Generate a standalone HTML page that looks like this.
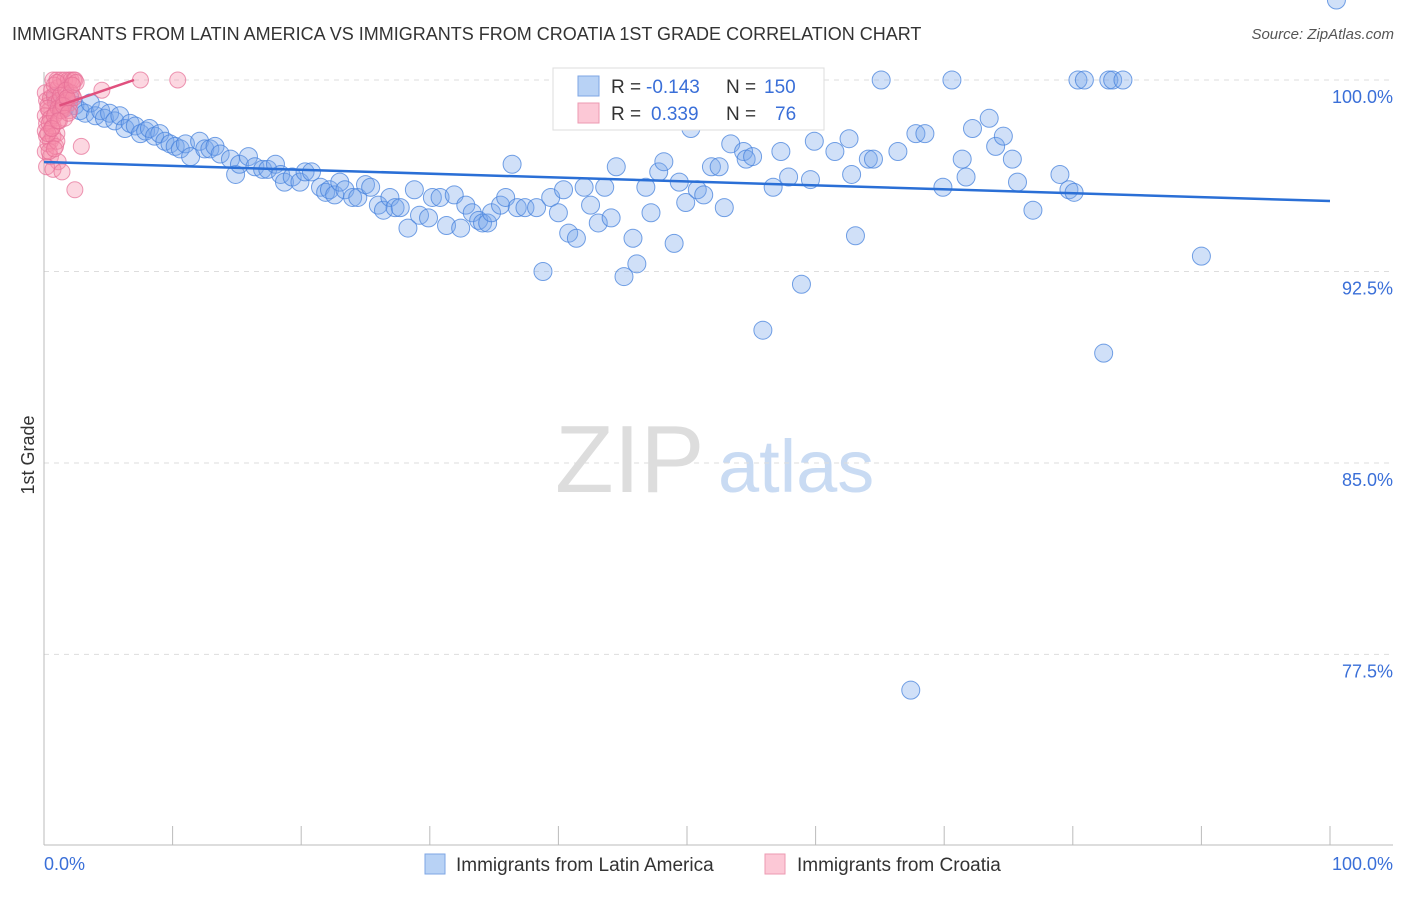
<!DOCTYPE html>
<html><head><meta charset="utf-8"><style>
body{margin:0;background:#fff;font-family:"Liberation Sans",sans-serif;}
svg text{font-family:"Liberation Sans",sans-serif;}
</style></head><body>
<svg id="chart" width="1406" height="892" viewBox="0 0 1406 892" xmlns="http://www.w3.org/2000/svg">
<text x="12" y="40" font-size="18" fill="#333">IMMIGRANTS FROM LATIN AMERICA VS IMMIGRANTS FROM CROATIA 1ST GRADE CORRELATION CHART</text>
<text x="1394" y="39" font-size="15" fill="#555" font-style="italic" text-anchor="end">Source: ZipAtlas.com</text>
<g>
<text x="555" y="492" font-size="96" fill="#ddd" font-family="Liberation Serif,serif">ZIP</text>
<text x="718" y="492" font-size="74" fill="#c9dbf3">atlas</text>
</g>
<text transform="translate(34,455) rotate(-90)" font-size="18" fill="#333" text-anchor="middle">1st Grade</text>
<g id="grid"></g>
<g id="axes"></g>
<g id="pts"></g>
<g id="trend"></g>
<g>
<rect x="553" y="68" width="271" height="62" fill="#fff" stroke="#ddd"/>
<rect x="578" y="76" width="21" height="20" fill="#b8d2f5" stroke="#7ea6e4"/>
<text x="611" y="93" font-size="19" fill="#333">R = </text>
<text x="646" y="93" font-size="19" fill="#3a6fd8">-0.143</text>
<text x="726" y="93" font-size="19" fill="#333">N = </text>
<text x="764" y="93" font-size="19" fill="#3a6fd8">150</text>
<rect x="578" y="103" width="21" height="20" fill="#fcc8d6" stroke="#ec9ab2"/>
<text x="611" y="120" font-size="19" fill="#333">R = </text>
<text x="651" y="120" font-size="19" fill="#3a6fd8">0.339</text>
<text x="726" y="120" font-size="19" fill="#333">N = </text>
<text x="775" y="120" font-size="19" fill="#3a6fd8">76</text>
</g>
<g>
<rect x="425" y="854" width="20" height="20" fill="#b8d2f5" stroke="#7ea6e4"/>
<text x="456" y="871" font-size="19" fill="#333">Immigrants from Latin America</text>
<rect x="765" y="854" width="20" height="20" fill="#fcc8d6" stroke="#ec9ab2"/>
<text x="797" y="871" font-size="19" fill="#333">Immigrants from Croatia</text>
</g>
</svg>
<script>
const yTicks=[100,92.5,85,77.5];
const yTickLabels=["100.0%","92.5%","85.0%","77.5%"];
const xTickLabels=["0.0%","100.0%"];
const blueX=[0.9,1.2,1.6,2,2.4,2.8,3.2,3.6,4,4.4,4.7,5.1,5.5,5.9,6.3,6.7,7.1,7.5,7.9,8.2,8.6,9,9.4,9.8,10.2,10.6,11,11.4,12.1,12.5,12.9,13.3,13.7,14.5,14.9,15.2,15.9,16.4,17,17.4,18,18.4,18.7,19.3,19.9,20.3,20.8,21.5,21.9,22.2,22.6,23,23.4,24,24.4,25,25.4,26,26.4,26.9,27.3,27.7,28.3,28.8,29.2,29.9,30.2,30.8,31.3,31.9,32.4,32.8,33.3,33.8,34.1,34.5,34.8,35.5,35.9,36.4,36.8,37.4,38.3,38.8,39.4,40,40.4,40.8,41.4,42,42.5,43.1,43.6,44.1,44.5,45.1,45.8,46.1,46.8,47.2,47.8,48.2,49,49.4,49.9,50.3,50.8,51.3,51.9,52.5,52.9,53.4,53.8,54.4,54.6,55.1,55.9,56.7,57.3,57.9,58.5,58.9,59.6,59.9,61.5,62.6,62.8,63.1,64.1,64.5,65.1,66.4,67.4,67.8,68.5,69.9,70.6,71.4,71.7,72.2,73.5,74,74.6,75.3,75.7,76.9,79,79.7,80.1,80.4,80.9,82.4,82.8,83.1,83.9,90,100.5];
const blueY=[99.3,99.1,98.9,99.3,99,98.8,98.7,99.1,98.6,98.8,98.5,98.7,98.4,98.6,98.1,98.3,98.2,97.9,98,98.1,97.8,97.9,97.6,97.5,97.4,97.3,97.5,97,97.6,97.3,97.3,97.4,97.1,96.9,96.3,96.7,97,96.6,96.5,96.5,96.7,96.3,96,96.2,96,96.4,96.4,95.8,95.6,95.7,95.5,96,95.7,95.4,95.4,95.9,95.8,95.1,94.9,95.4,95,95,94.2,95.7,94.7,94.6,95.4,95.4,94.3,95.5,94.2,95.1,94.8,94.5,94.4,94.4,94.8,95.1,95.4,96.7,95,95,95,92.5,95.4,94.8,95.7,94,93.8,95.8,95.1,94.4,95.8,94.6,96.6,92.3,93.8,92.8,95.8,94.8,96.4,96.8,93.6,96,95.2,98.1,95.7,95.5,96.6,96.6,95,97.5,98.8,97.2,96.9,97,90.2,95.8,97.2,96.2,98.7,92,96.1,97.6,97.2,97.7,96.3,93.9,96.9,96.9,100,97.2,76.1,97.9,97.9,95.8,100,96.9,96.2,98.1,98.5,97.4,97.8,96.9,96,94.9,96.3,95.7,95.6,100,100,89.3,100,100,100,93.1];
const pinkX=[0.1,0.2,0.3,0.4,0.5,0.6,0.7,0.8,0.9,1,1.1,1.2,1.3,1.4,1.5,1.6,1.7,1.8,1.9,2,2.1,2.2,2.3,2.4,0.1,0.2,0.3,0.5,0.6,0.8,0.9,1,1.1,1.3,1.4,1.5,1.7,1.8,2,2.1,2.3,2.5,0.1,0.2,0.4,0.5,0.7,0.8,1,1.2,1.3,1.5,1.6,1.8,1.9,2.2,0.1,0.3,0.5,0.7,0.9,1.1,0.2,0.4,0.7,1,0.3,0.6,0.8,1.1,4.5,7.5,10.4,2.9,2.4,1.4];
const pinkY=[99.5,99.2,99,98.8,99.3,99.6,100,99.4,99.1,100,99.7,99.2,100,98.9,99.5,100,99.6,99.3,100,99.1,100,99.4,100,100,98.6,98.3,98.9,98.5,98.1,99.8,98.7,99.9,98.9,99.4,98.8,99.1,99.6,99.2,98.8,99.5,99.3,99.9,98,97.8,98.3,97.6,98.2,98.6,97.9,98.4,98.8,99,98.5,99.3,98.7,99.8,97.2,97.5,97,97.8,97.4,96.8,96.6,97.2,96.5,97.6,97.9,98.1,97.3,98.4,99.6,100,100,97.4,95.7,96.4];
const blueTrendX=[0,100], blueTrendY=[96.79,95.26];
const pinkTrendX=[1.2,7.0], pinkTrendY=[99.0,100];
const NS='http://www.w3.org/2000/svg';
const X0=44,X1=1330,Y100=80,YPER=25.53;
const sx=v=>X0+v/100*(X1-X0);
const sy=v=>Y100+(100-v)*YPER;
function mk(tag,attrs,parent){const e=document.createElementNS(NS,tag);for(const k in attrs)e.setAttribute(k,attrs[k]);parent.appendChild(e);return e;}
const grid=document.getElementById('grid'),axes=document.getElementById('axes');
yTicks.forEach((t,i)=>{
 const l=mk('line',{x1:X0,x2:1393,y1:sy(t),y2:sy(t),stroke:'#ddd','stroke-dasharray':'5,5'},grid);
 
 
 const tx=mk('text',{x:1393,y:sy(t)+23,'font-size':18,fill:'#3a6fd8','text-anchor':'end'},axes);
 tx.textContent=yTickLabels[i];
 
 
});
const ax=mk('line',{x1:44,x2:44,y1:72,y2:845,stroke:'#bbb'},axes);


const bx=mk('line',{x1:44,x2:1393,y1:845,y2:845,stroke:'#bbb'},axes);


for(let i=0;i<=10;i++){
 const t=mk('line',{x1:sx(i*10),x2:sx(i*10),y1:826,y2:845,stroke:'#bbb'},axes);
 
 
}
const xl0=mk('text',{x:44,y:870,'font-size':18,fill:'#3a6fd8'},axes);xl0.textContent=xTickLabels[0];


const xl1=mk('text',{x:1393,y:870,'font-size':18,fill:'#3a6fd8','text-anchor':'end'},axes);xl1.textContent=xTickLabels[1];


const pts=document.getElementById('pts');
blueX.forEach((x,i)=>{
 const c=mk('circle',{cx:sx(x),cy:sy(blueY[i]),r:9,fill:'rgba(120,165,235,0.35)',stroke:'rgba(70,130,220,0.75)','stroke-width':1},pts);
 
 
});
pinkX.forEach((x,i)=>{
 const c=mk('circle',{cx:sx(x),cy:sy(pinkY[i]),r:8,fill:'rgba(245,140,170,0.35)',stroke:'rgba(230,110,150,0.7)','stroke-width':1},pts);
 
 
});
const tr=document.getElementById('trend');
const bl=mk('line',{x1:sx(blueTrendX[0]),y1:sy(blueTrendY[0]),x2:sx(blueTrendX[1]),y2:sy(blueTrendY[1]),stroke:'#2a6fd6','stroke-width':2.5},tr);


const pl=mk('line',{x1:sx(pinkTrendX[0]),y1:sy(pinkTrendY[0]),x2:sx(pinkTrendX[1]),y2:sy(pinkTrendY[1]),stroke:'#e0507e','stroke-width':2.5},tr);


</script>
</body></html>
